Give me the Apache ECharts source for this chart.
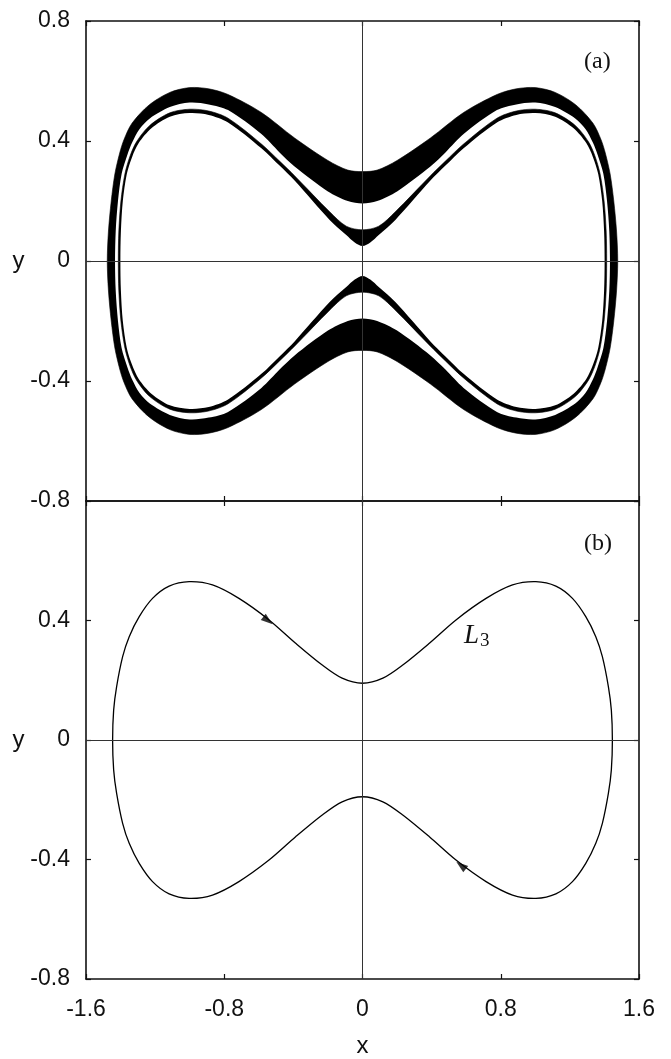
<!DOCTYPE html>
<html>
<head>
<meta charset="utf-8">
<script src="https://cdn.jsdelivr.net/npm/echarts@6/dist/echarts.min.js"></script>
<style>
  html, body { margin: 0; padding: 0; background: #fff; }
  #chart { width: 671px; height: 1059px; }
</style>
</head>
<body>
<div id="chart"></div>
<script>
// Axis ticks shared by both panels
const xTicks = [-1.6, -0.8, 0, 0.8, 1.6];
const yTicks = [-0.8, -0.4, 0, 0.4, 0.8];

// Panel (a): closed edges of the two black bands (upper half left->right, lower half right->left)
const wideBandOuter = [
  [-1.477,0],[-1.47,0.1],[-1.454,0.2],[-1.433,0.29],[-1.405,0.36],[-1.38,0.405],[-1.334,0.459],[-1.235,0.52],[-1.115,0.562],[-1.0,0.578],[-0.89,0.574],[-0.778,0.555],[-0.585,0.495],[-0.393,0.41],[-0.2,0.335],[-0.085,0.303],[0,0.298],
  [0.085,0.303],[0.2,0.335],[0.393,0.41],[0.585,0.495],[0.778,0.555],[0.89,0.574],[1.0,0.578],[1.115,0.562],[1.235,0.52],[1.334,0.459],[1.38,0.405],[1.405,0.36],[1.433,0.29],[1.454,0.2],[1.47,0.1],[1.477,0],
  [1.47,-0.1],[1.454,-0.2],[1.433,-0.29],[1.405,-0.36],[1.38,-0.405],[1.334,-0.459],[1.235,-0.52],[1.115,-0.562],[1.0,-0.578],[0.89,-0.574],[0.778,-0.555],[0.585,-0.495],[0.393,-0.41],[0.2,-0.335],[0.085,-0.303],[0,-0.298],
  [-0.085,-0.303],[-0.2,-0.335],[-0.393,-0.41],[-0.585,-0.495],[-0.778,-0.555],[-0.89,-0.574],[-1.0,-0.578],[-1.115,-0.562],[-1.235,-0.52],[-1.334,-0.459],[-1.38,-0.405],[-1.405,-0.36],[-1.433,-0.29],[-1.454,-0.2],[-1.47,-0.1]
];
const wideBandInner = [
  [-1.432,0],[-1.428,0.1],[-1.415,0.2],[-1.394,0.29],[-1.36,0.355],[-1.333,0.395],[-1.29,0.44],[-1.231,0.475],[-1.115,0.513],[-1.0,0.528],[-0.89,0.522],[-0.778,0.503],[-0.585,0.423],[-0.48,0.362],[-0.393,0.315],[-0.2,0.232],[-0.085,0.2],[0,0.192],
  [0.085,0.2],[0.2,0.232],[0.393,0.315],[0.48,0.362],[0.585,0.423],[0.778,0.503],[0.89,0.522],[1.0,0.528],[1.115,0.513],[1.231,0.475],[1.29,0.44],[1.333,0.395],[1.36,0.355],[1.394,0.29],[1.415,0.2],[1.428,0.1],[1.432,0],
  [1.428,-0.1],[1.415,-0.2],[1.394,-0.29],[1.36,-0.355],[1.333,-0.395],[1.29,-0.44],[1.231,-0.475],[1.115,-0.513],[1.0,-0.528],[0.89,-0.522],[0.778,-0.503],[0.585,-0.423],[0.48,-0.362],[0.393,-0.315],[0.2,-0.232],[0.085,-0.2],[0,-0.192],
  [-0.085,-0.2],[-0.2,-0.232],[-0.393,-0.315],[-0.48,-0.362],[-0.585,-0.423],[-0.778,-0.503],[-0.89,-0.522],[-1.0,-0.528],[-1.115,-0.513],[-1.231,-0.475],[-1.29,-0.44],[-1.333,-0.395],[-1.36,-0.355],[-1.394,-0.29],[-1.415,-0.2],[-1.428,-0.1]
];
const thinBandOuter = [
  [-1.413,0],[-1.41,0.1],[-1.398,0.2],[-1.375,0.29],[-1.345,0.35],[-1.307,0.398],[-1.231,0.452],[-1.115,0.494],[-1.0,0.506],[-0.89,0.5],[-0.778,0.476],[-0.585,0.39],[-0.48,0.333],[-0.393,0.284],[-0.19,0.164],[-0.094,0.116],[0,0.104],
  [0.094,0.116],[0.19,0.164],[0.393,0.284],[0.48,0.333],[0.585,0.39],[0.778,0.476],[0.89,0.5],[1.0,0.506],[1.115,0.494],[1.231,0.452],[1.307,0.398],[1.345,0.35],[1.375,0.29],[1.398,0.2],[1.41,0.1],[1.413,0],
  [1.41,-0.1],[1.398,-0.2],[1.375,-0.29],[1.345,-0.35],[1.307,-0.398],[1.231,-0.452],[1.115,-0.494],[1.0,-0.506],[0.89,-0.5],[0.778,-0.476],[0.585,-0.39],[0.48,-0.333],[0.393,-0.284],[0.19,-0.164],[0.094,-0.116],[0,-0.104],
  [-0.094,-0.116],[-0.19,-0.164],[-0.393,-0.284],[-0.48,-0.333],[-0.585,-0.39],[-0.778,-0.476],[-0.89,-0.5],[-1.0,-0.506],[-1.115,-0.494],[-1.231,-0.452],[-1.307,-0.398],[-1.345,-0.35],[-1.375,-0.29],[-1.398,-0.2],[-1.41,-0.1]
];
const thinBandInner = [
  [-1.401,0],[-1.398,0.1],[-1.387,0.2],[-1.364,0.29],[-1.333,0.347],[-1.295,0.393],[-1.22,0.443],[-1.115,0.481],[-1.0,0.493],[-0.89,0.487],[-0.778,0.462],[-0.585,0.376],[-0.48,0.318],[-0.393,0.268],[-0.19,0.137],[-0.094,0.087],[-0.045,0.062],[0,0.05],
  [0.045,0.062],[0.094,0.087],[0.19,0.137],[0.393,0.268],[0.48,0.318],[0.585,0.376],[0.778,0.462],[0.89,0.487],[1.0,0.493],[1.115,0.481],[1.22,0.443],[1.295,0.393],[1.333,0.347],[1.364,0.29],[1.387,0.2],[1.398,0.1],[1.401,0],
  [1.398,-0.1],[1.387,-0.2],[1.364,-0.29],[1.333,-0.347],[1.295,-0.393],[1.22,-0.443],[1.115,-0.481],[1.0,-0.493],[0.89,-0.487],[0.778,-0.462],[0.585,-0.376],[0.48,-0.318],[0.393,-0.268],[0.19,-0.137],[0.094,-0.087],[0.045,-0.062],[0,-0.05],
  [-0.045,-0.062],[-0.094,-0.087],[-0.19,-0.137],[-0.393,-0.268],[-0.48,-0.318],[-0.585,-0.376],[-0.778,-0.462],[-0.89,-0.487],[-1.0,-0.493],[-1.115,-0.481],[-1.22,-0.443],[-1.295,-0.393],[-1.333,-0.347],[-1.364,-0.29],[-1.387,-0.2],[-1.398,-0.1]
];

// Panel (b): the closed orbit L3 and the two direction arrows on it
const orbitL3 = [
  [-1.446,0],[-1.44,0.1],[-1.423,0.178],[-1.388,0.279],[-1.35,0.346],[-1.292,0.413],[-1.215,0.474],[-1.119,0.515],[-1.003,0.53],[-0.868,0.519],[-0.715,0.474],[-0.541,0.402],[-0.387,0.324],[-0.233,0.251],[-0.118,0.207],[0,0.19],
  [0.118,0.207],[0.233,0.251],[0.387,0.324],[0.541,0.402],[0.715,0.474],[0.868,0.519],[1.003,0.53],[1.119,0.515],[1.215,0.474],[1.292,0.413],[1.35,0.346],[1.388,0.279],[1.423,0.178],[1.44,0.1],[1.446,0],
  [1.44,-0.1],[1.423,-0.178],[1.388,-0.279],[1.35,-0.346],[1.292,-0.413],[1.215,-0.474],[1.119,-0.515],[1.003,-0.53],[0.868,-0.519],[0.715,-0.474],[0.541,-0.402],[0.387,-0.324],[0.233,-0.251],[0.118,-0.207],[0,-0.19],
  [-0.118,-0.207],[-0.233,-0.251],[-0.387,-0.324],[-0.541,-0.402],[-0.715,-0.474],[-0.868,-0.519],[-1.003,-0.53],[-1.119,-0.515],[-1.215,-0.474],[-1.292,-0.413],[-1.35,-0.346],[-1.388,-0.279],[-1.423,-0.178],[-1.44,-0.1]
];
const orbitArrows = [[-0.547, 0.4], [0.57, -0.42]];

const sansFont = '"Liberation Sans", Arial, sans-serif';
const serifFont = '"Liberation Serif", "DejaVu Serif", serif';
const ink = '#111';

function fmt(v) { return String(Math.round(v * 10) / 10); }

function valueAxis(grid, pos, ticks, showLabels, extra) {
  return Object.assign({
    type: 'value', gridIndex: grid, position: pos,
    min: ticks[0], max: ticks[ticks.length - 1], interval: ticks[1] - ticks[0],
    axisLine: { show: true, onZero: false, lineStyle: { color: ink, width: 1.6 } },
    axisTick: { show: true, inside: true, length: 5, lineStyle: { color: ink, width: 1.2 } },
    axisLabel: { show: showLabels, color: ink, fontSize: 23, fontFamily: sansFont, formatter: fmt },
    splitLine: { show: false }
  }, extra || {});
}

// Filled closed curves drawn in order (later layers cover earlier ones)
function layeredFill(xi, yi, layers) {
  return {
    type: 'custom', xAxisIndex: xi, yAxisIndex: yi, silent: true, z: 2,
    data: [[0, 0]],
    renderItem: (params, api) => ({
      type: 'group',
      children: layers.map(l => ({
        type: 'polygon',
        shape: { points: l.pts.map(p => api.coord(p)), smooth: 0.3 },
        style: { fill: l.fill, stroke: l.stroke || null, lineWidth: l.lw || 0 }
      }))
    })
  };
}

function zeroLines(xi, yi) {
  return {
    type: 'line', xAxisIndex: xi, yAxisIndex: yi, data: [], z: 5, silent: true,
    markLine: {
      silent: true, symbol: 'none', animation: false,
      label: { show: false },
      lineStyle: { color: '#333', width: 1, type: 'solid' },
      data: [{ yAxis: 0 }, { xAxis: 0 }]
    }
  };
}

const arrowTurns = [-128, 52];

const nameStyle = { color: ink, fontSize: 24, fontFamily: sansFont };
const labelStyle = { show: true, color: ink, fontSize: 23, fontFamily: sansFont, formatter: fmt };

const option = {
  animation: false,
  backgroundColor: '#fff',
  grid: [
    { left: 86, top: 21, width: 553, height: 480 },
    { left: 86, top: 501, width: 553, height: 478 }
  ],
  xAxis: [
    valueAxis(0, 'bottom', xTicks, false),
    valueAxis(0, 'top', xTicks, false),
    valueAxis(1, 'bottom', xTicks, true, {
      name: 'x', nameLocation: 'middle', nameGap: 55, nameTextStyle: nameStyle,
      axisLabel: Object.assign({}, labelStyle, { margin: 19 })
    }),
    valueAxis(1, 'top', xTicks, false)
  ],
  yAxis: [
    valueAxis(0, 'left', yTicks, true, {
      name: 'y', nameLocation: 'middle', nameRotate: 0, nameGap: 52, nameTextStyle: nameStyle,
      axisLabel: Object.assign({}, labelStyle, { margin: 16 })
    }),
    valueAxis(0, 'right', yTicks, false),
    valueAxis(1, 'left', yTicks, true, {
      name: 'y', nameLocation: 'middle', nameRotate: 0, nameGap: 52, nameTextStyle: nameStyle,
      axisLabel: Object.assign({}, labelStyle, { margin: 16, showMaxLabel: false })
    }),
    valueAxis(1, 'right', yTicks, false)
  ],
  series: [
    layeredFill(0, 0, [
      { pts: wideBandOuter, fill: '#000', stroke: '#000', lw: 0.6 },
      { pts: wideBandInner, fill: '#fff' },
      { pts: thinBandOuter, fill: '#000', stroke: '#000', lw: 0.6 },
      { pts: thinBandInner, fill: '#fff' }
    ]),
    zeroLines(0, 0),
    layeredFill(2, 2, [
      { pts: orbitL3, fill: 'none', stroke: '#000', lw: 1.3 }
    ]),
    zeroLines(2, 2),
    {
      type: 'scatter', xAxisIndex: 2, yAxisIndex: 2, z: 6, silent: true,
      symbol: 'triangle', symbolSize: [8, 12],
      itemStyle: { color: '#000' },
      data: orbitArrows.map((p, i) => ({ value: p, symbolRotate: arrowTurns[i] }))
    }
  ],
  graphic: [
    { type: 'text', left: 584, top: 50, style: { text: '(a)', font: '24px ' + serifFont, fill: ink } },
    { type: 'text', left: 584, top: 532, style: { text: '(b)', font: '24px ' + serifFont, fill: ink } },
    { type: 'text', left: 464, top: 622, style: { text: 'L', font: 'italic 27px ' + serifFont, fill: ink } },
    { type: 'text', left: 480, top: 632, style: { text: '3', font: '19px ' + serifFont, fill: ink } }
  ]
};

const chart = echarts.init(document.getElementById('chart'), null, { renderer: 'canvas' });
chart.setOption(option);
</script>
</body>
</html>
